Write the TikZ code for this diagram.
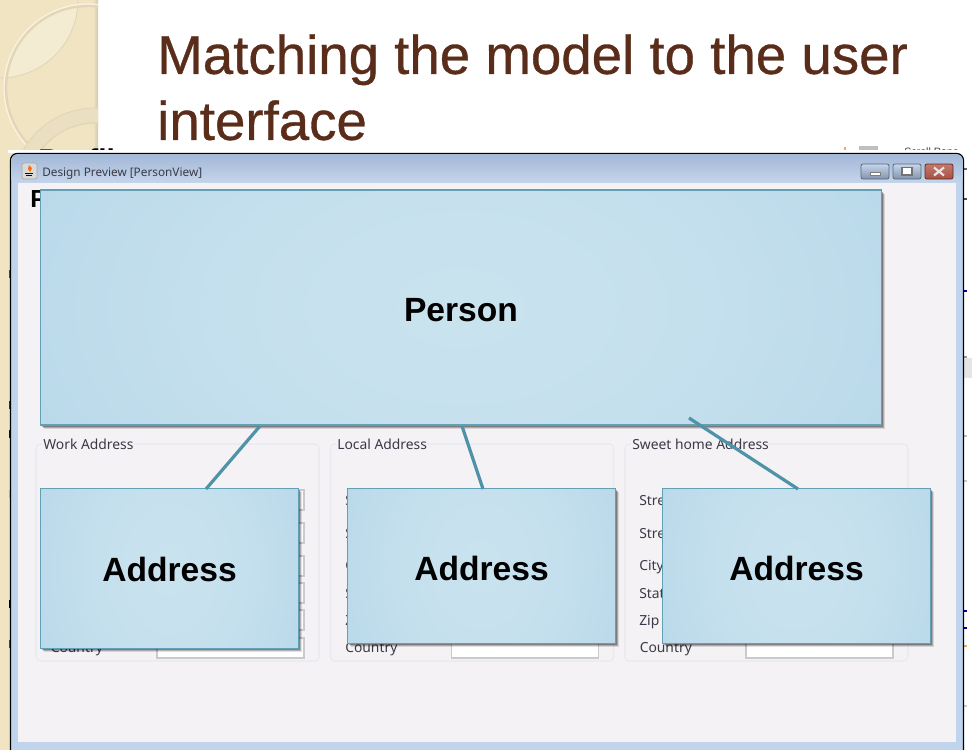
\documentclass[tikz,border=0pt]{standalone}
\usepackage{fontspec}
\setmainfont{Liberation Sans}
\newfontfamily\uifont{Noto Sans}
\newfontfamily\titlefont[FakeBold=0.6]{Liberation Sans}
\usetikzlibrary{shadows}
\definecolor{tan}{HTML}{F0E4C2}
\definecolor{tanlite}{HTML}{F4EBD3}
\definecolor{tanring}{HTML}{E2D6B6}
\definecolor{ringfill}{HTML}{EBDFC2}
\definecolor{titlebrown}{HTML}{5A2C1A}
\definecolor{winframe}{HTML}{C0D4EC}
\definecolor{winbg}{HTML}{F5F2F6}
\definecolor{barA}{HTML}{A3B9D8}
\definecolor{barB}{HTML}{C6D6EB}
\definecolor{boxedge}{HTML}{62A0B6}
\definecolor{linkcol}{HTML}{4F93A8}
\definecolor{panelline}{HTML}{E6E9EF}
\definecolor{uitext}{HTML}{3A3A46}
\definecolor{fieldline}{HTML}{C9C9CE}
\definecolor{closeA}{HTML}{C57A6C}
\definecolor{closeB}{HTML}{A84F42}
\pgfdeclarefunctionalshading{boxglow}{\pgfpoint{-50bp}{-50bp}}{\pgfpoint{50bp}{50bp}}{}{
  0.45 mul dup mul exch dup mul add 2500 div
  dup 0.19 mul 0.785 exch sub exch
  dup 0.115 mul 0.885 exch sub exch
  0.06 mul 0.935 exch sub
}
\tikzset{
  x=0.75pt,y=-0.75pt,
  umlbox/.style 2 args={draw=boxedge,line width=0.95pt,shade,shading=boxglow,
    minimum width=#1*0.75pt,minimum height=#2*0.75pt,inner sep=0pt,
    text height=21pt,text depth=0pt,
    font=\fontsize{25.2}{28}\selectfont\bfseries,text=black,
    drop shadow={shadow xshift=2.8pt,shadow yshift=-2.8pt,fill=black,opacity=0.12},
    drop shadow={shadow xshift=2pt,shadow yshift=-2pt,fill=black,opacity=0.2},
    drop shadow={shadow xshift=1.2pt,shadow yshift=-1.2pt,fill=black,opacity=0.28}},
  link/.style={draw=linkcol,line width=2.4pt},
  panel/.style={draw=panelline,line width=0.8pt,rounded corners=3pt},
  uilabel/.style={font=\uifont\fontsize{10.4}{12}\selectfont,text=uitext,anchor=base west,inner sep=0pt},
  field/.style={draw=fieldline,line width=0.8pt,fill=white},
  winbtn/.style={draw=#1!55!black,line width=0.6pt,rounded corners=1.5pt},
}
\begin{document}
\begin{tikzpicture}
\useasboundingbox (0,0) rectangle (972,750);
\fill[white] (0,0) rectangle (972,750);
% decorated slide strip
\fill[tan] (0,0) rectangle (98,750);
\fill[left color=tan,right color=tan!88!black] (93,0) rectangle (98,150);
\begin{scope}
  \clip (0,0) rectangle (98,153);
  \begin{scope}
    \clip (88,88) circle[radius=82];
    \fill[tanlite] (0,0) circle[radius=78];
  \end{scope}
  \draw[tanring,line width=0.7pt] (0,0) circle[radius=78];
  \draw[tanring,line width=1.8pt] (88,88) circle[radius=82];
  \draw[white!55!tan,line width=0.9pt] (88,88) circle[radius=84];
  \fill[ringfill,even odd rule] (95,190) circle[radius=82] (95,190) circle[radius=67];
  \draw[tanring,line width=1pt] (95,190) circle[radius=67];
  \draw[tanring,line width=0.7pt] (95,190) circle[radius=82];
\end{scope}
% text of the slide underneath the window
\node[font=\fontsize{22.5}{24}\selectfont\bfseries,anchor=base west,inner sep=0pt] (backhead) at (38,170) {Profile};
\node[font=\fontsize{8}{9}\selectfont,anchor=base west,inner sep=0pt,text=black!75] (backscroll) at (904,155) {Scroll Pane};
\fill[orange!70] (844,147) rectangle (846,153);
\fill[black!25] (859,146) rectangle (878,153);
% stray marks at the window's sides
\foreach \yy/\cc in {168/black!60,198/black!70,290/blue!60!black,356/black!40,361/black!40,365/black!40,435/black!25,
  480/black!20,610/blue!60!black,627/blue!60!black,645/orange!70,705/black!20}{
  \fill[\cc] (964,\yy) rectangle (966.5,\yy+1.6);}
\fill[black!10] (964,358) rectangle (972,378);
\foreach \yy/\cc in {270/black!70,401/black!80,430/blue!60!black,490/orange!60,600/black,640/black!70}{
  \fill[\cc] (8.5,\yy) rectangle (10,\yy+8);}
% window
\fill[white] (8,150) rectangle (966,153);
\path[draw=black,line width=0.9pt,fill=winframe,rounded corners=5pt] (10.5,760) -- (10.5,153.5) -- (963.5,153.5) -- (963.5,760);
\shade[top color=barA,bottom color=barB,rounded corners=4pt] (11.5,154.5) rectangle (962.5,184);
\fill[winbg] (18,183) rectangle (956,742);
% title bar
\fill[white!85!black,draw=black!35,line width=0.5pt,rounded corners=1.5pt] (22,163) rectangle (37,179);
\fill[orange!85!red] (29,165) -- (32,168) -- (30,172) -- (28,169) -- cycle;
\draw[blue!45!black,line width=0.7pt] (25,173) -- (33,173) (26,175.5) -- (32,175.5);
\node[uilabel,font=\uifont\fontsize{8.85}{11}\selectfont] (wintitle) at (42,176) {Design Preview [PersonView]};
\shade[winbtn=barA,top color=barB,bottom color=barA!80!black] (861,164) rectangle (889,179);
\fill[white,draw=black!50,line width=0.4pt] (870,172.5) rectangle (880,175);
\shade[winbtn=barA,top color=barB,bottom color=barA!80!black] (893,164) rectangle (921,179);
\draw[black!55,fill=white,line width=0.9pt] (902,167.5) rectangle (912,175);
\shade[winbtn=closeB,top color=closeA,bottom color=closeB] (925,164) rectangle (953,179);
\draw[white!90!black,line width=1.6pt] (934,167.5) -- (944,175.5) (944,167.5) -- (934,175.5);
% form heading
\node[font=\fontsize{18.5}{22}\selectfont\bfseries,anchor=base west,inner sep=0pt] (formhead) at (30,207) {Person Profile};
% panels with fields
\foreach \xo/\nm in {0/one,294.5/two,589/three}{
  \draw[panel] (36+\xo,444) rectangle (319+\xo,661);
  \foreach \ya/\yb in {490/510,523/543,556/576,583/603,610/630}{
    \draw[field] (157+\xo,\ya) rectangle (304+\xo,\yb);}
  \draw[field] (157+\xo,638) rectangle (304+\xo,658);
}
\fill[winbg] (42,436) rectangle (134,450);
\fill[winbg] (336,436) rectangle (426,450);
\fill[winbg] (631,436) rectangle (768,450);
\node[uilabel] (tone) at (43,449) {Work Address};
\node[uilabel] (ttwo) at (337,449) {Local Address};
\node[uilabel] (tthree) at (632,449) {Sweet home Address};
\node[uilabel] (cone) at (50.5,652) {Country};
\node[uilabel] (ctwo) at (345,652) {Country};
\node[uilabel] (cthree) at (639.5,652) {Country};
\node[uilabel] (s1) at (345,505) {S};
\node[uilabel] (s2) at (345,538) {S};
\node[uilabel] (s3) at (345,570) {C};
\node[uilabel] (s4) at (345,598) {S};
\node[uilabel] (s5) at (345,625) {Z};
\node[uilabel] (r1) at (639,505) {Stre};
\node[uilabel] (r2) at (639,538) {Stre};
\node[uilabel] (r3) at (639,570) {City};
\node[uilabel] (r4) at (639,598) {Stat};
\node[uilabel] (r5) at (639,625) {Zip C};
% the model
\node[umlbox={841}{235}] (person) at (461,307.5) {Person};
\node[umlbox={258}{160},text height=19.5pt] (addrone) at (169.5,568.5) {Address};
\node[umlbox={268}{155}] (addrtwo) at (481.5,566) {Address};
\node[umlbox={268}{155}] (addrthree) at (796.5,566) {Address};
\coordinate (pone) at (260,426);
\coordinate (ptwo) at (462,426);
\coordinate (pthree) at (689,418);
\coordinate (aone) at (206,489);
\coordinate (atwo) at (483,489);
\coordinate (athree) at (798,489);
\draw[link] (pone) -- (aone);
\draw[link] (ptwo) -- (atwo);
\draw[link] (pthree) -- (athree);
% title
\node[font=\titlefont\fontsize{41}{49.5}\selectfont,text=titlebrown,anchor=north west,align=left,inner sep=0pt] (title) at (157,34) {Matching the model to the user\\interface};
\end{tikzpicture}
\end{document}
